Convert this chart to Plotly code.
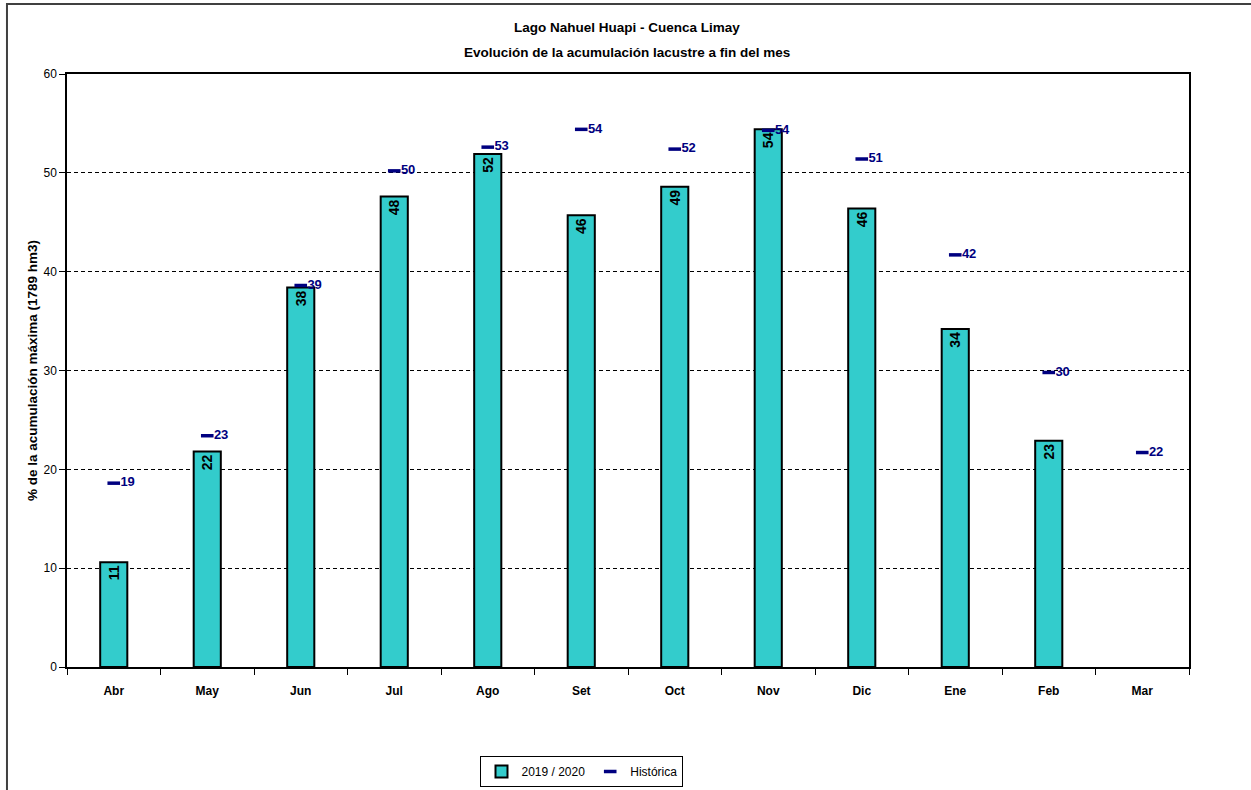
import plotly.graph_objects as go

months = ["Abr", "May", "Jun", "Jul", "Ago", "Set", "Oct", "Nov", "Dic", "Ene", "Feb", "Mar"]
actual_2019_2020 = [10.6, 21.8, 38.4, 47.6, 51.9, 45.7, 48.6, 54.4, 46.4, 34.2, 22.9, None]
historica = [18.6, 23.4, 38.6, 50.2, 52.6, 54.4, 52.4, 54.3, 51.4, 41.7, 29.8, 21.7]

title_lines = ["Lago Nahuel Huapi - Cuenca Limay", "Evolución de la acumulación lacustre a fin del mes"]
y_title = "% de la acumulación máxima (1789 hm3)"
y_ticks = [0, 10, 20, 30, 40, 50, 60]

FONT = "Liberation Sans Narrow, Arial Narrow, Liberation Sans, Arial, sans-serif"

bar_text = [f"{v:.0f}" if v is not None else "" for v in actual_2019_2020]
hist_text = [f"{v:.0f}" for v in historica]

fig = go.Figure()
fig.add_trace(go.Bar(
    x=months, y=actual_2019_2020, name="2019 / 2020",
    marker=dict(color="#33CCCC", line=dict(color="black", width=2)),
    width=0.29,
    text=bar_text, textposition="inside", insidetextanchor="end",
    textangle=-90,
    textfont=dict(family=FONT, size=14, color="black", weight="bold"),
    cliponaxis=False,
))
fig.add_trace(go.Scatter(
    x=months, y=historica, name="Histórica", mode="markers+text",
    marker=dict(symbol="line-ew", size=9, color="#000080",
                line=dict(color="#000080", width=3.5)),
    text=hist_text, textposition="middle right",
    textfont=dict(family=FONT, size=13, color="#000080", weight="bold"),
    cliponaxis=False,
))

fig.update_layout(
    width=1251, height=790,
    margin=dict(l=67, r=62, t=74, b=123, autoexpand=False),
    paper_bgcolor="white", plot_bgcolor="white",
    font=dict(family=FONT, size=12, color="black"),
    showlegend=True,
    legend=dict(orientation="h", x=0.459, xanchor="center", y=-0.150, yanchor="top",
                bordercolor="black", borderwidth=1, bgcolor="white",
                font=dict(family=FONT, size=12, color="black"),
                itemwidth=30, tracegroupgap=0),
    annotations=[
        dict(text="<b>" + title_lines[0] + "</b>", xref="paper", yref="paper",
             x=0.499, y=1.0776, xanchor="center", yanchor="middle", showarrow=False,
             font=dict(family=FONT, size=13.5, color="black")),
        dict(text="<b>" + title_lines[1] + "</b>", xref="paper", yref="paper",
             x=0.499, y=1.037, xanchor="center", yanchor="middle", showarrow=False,
             font=dict(family=FONT, size=13.5, color="black")),
    ],
    shapes=[dict(type="rect", xref="paper", yref="paper",
                 x0=-0.0535, x1=1.2, y0=-0.3, y1=1.118,
                 line=dict(color="#404040", width=2), fillcolor="rgba(0,0,0,0)",
                 layer="below")],
)

fig.update_xaxes(
    type="category", range=[-0.5, len(months) - 0.5],
    tickson="boundaries", ticks="outside", ticklen=6,
    tickcolor="black", showline=True, linecolor="black", linewidth=1.5,
    mirror=True, showgrid=False, ticklabelstandoff=12,
    tickfont=dict(family=FONT, size=12, color="black", weight="bold"),
)
fig.update_yaxes(
    range=[0, 60], tickvals=y_ticks, ticks="outside", ticklen=6, tickcolor="black",
    showline=True, linecolor="black", linewidth=1.5, mirror=True,
    showgrid=True, gridcolor="black", griddash="4px,3px", gridwidth=1,
    zeroline=False,
    tickfont=dict(family=FONT, size=12, color="black"),
    title=dict(text="<b>" + y_title + "</b>", standoff=3,
               font=dict(family=FONT, size=13.5, color="black")),
)

fig.write_html("out.html", config={"displayModeBar": False},
               post_script="document.body.style.margin='0';")
